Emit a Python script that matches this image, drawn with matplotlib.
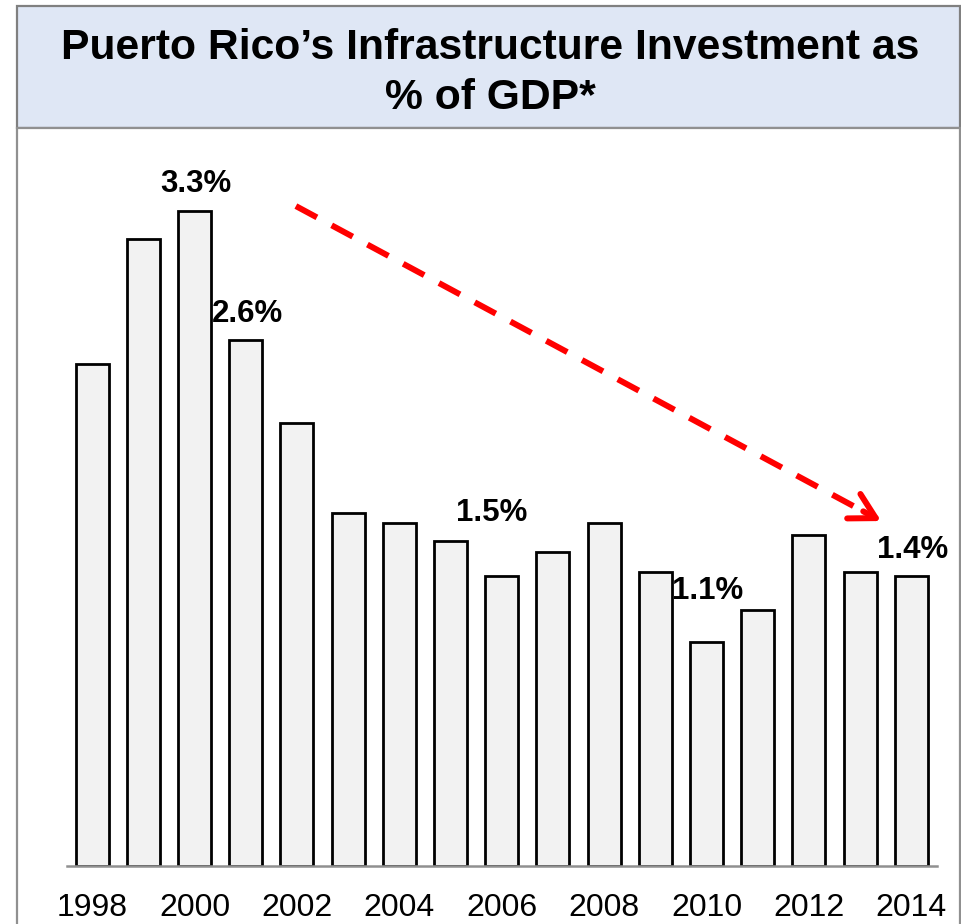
import matplotlib
matplotlib.use("Agg")
import matplotlib.pyplot as plt
from matplotlib.patches import Rectangle

years = list(range(1998, 2015))
values = [2.53, 3.16, 3.30, 2.65, 2.23, 1.78, 1.73, 1.64, 1.46, 1.58, 1.73, 1.48, 1.13, 1.29, 1.67, 1.48, 1.46]
tick_years = [1998, 2000, 2002, 2004, 2006, 2008, 2010, 2012, 2014]
label_texts = ["3.3%", "2.6%", "1.5%", "1.1%", "1.4%"]
label_x = [2.02, 3.03, 7.81, 12.03, 16.03]
label_y = [3.396, 2.741, 1.738, 1.345, 1.552]
arrow_start = (3.98, 3.325)
arrow_end = (15.41, 1.738)
title = "Puerto Rico\u2019s Infrastructure Investment as\n% of GDP*"

plt.rcParams['font.family'] = ['Liberation Sans', 'DejaVu Sans']

W, H = 961, 924
fig = plt.figure(figsize=(W / 100, H / 100), dpi=100)

# title box and panel
fig.patches.append(Rectangle((17 / W, 1 - 128 / H), (960 - 17) / W, (128 - 6) / H,
                             transform=fig.transFigure, facecolor="#DFE7F5",
                             edgecolor="#808080", linewidth=1.6, zorder=-2))
fig.patches.append(Rectangle((17 / W, -0.01), (960 - 17) / W, 1 - 128 / H + 0.01,
                             transform=fig.transFigure, facecolor="white",
                             edgecolor="#909090", linewidth=1.6, zorder=-2))
fig.text(490 / W, 1 - 73 / H, title, ha="center", va="center", fontsize=30.7,
         fontweight="bold", linespacing=1.34)

ax = fig.add_axes([67 / W, 1 - 866 / H, (937 - 67) / W, (866 - 151.5) / H])
ax.set_zorder(2)
ax.set_facecolor("none")
x = list(range(len(years)))
ax.bar(x, values, width=0.645, color="#F2F2F2", edgecolor="black", linewidth=2.0, zorder=2)
ax.set_xlim(-0.49, 16.5)
ax.set_ylim(0, 3.6)
for s in ["top", "right", "left"]:
    ax.spines[s].set_visible(False)
ax.spines["bottom"].set_color("#909090")
ax.spines["bottom"].set_linewidth(1.8)
ax.set_yticks([])
ax.set_xticks([years.index(y) for y in tick_years])
ax.set_xticklabels([str(y) for y in tick_years], fontsize=23)
ax.tick_params(axis="x", length=0, pad=19.5)

for t, lx, ly in zip(label_texts, label_x, label_y):
    ax.text(lx, ly, t, ha="center", va="baseline", fontsize=22.5, fontweight="bold",
            clip_on=False, zorder=4)

# dashed trend arrow
ax.plot([arrow_start[0], arrow_end[0] - 0.25], [arrow_start[1], arrow_end[1] + 0.035],
        color="#FF0000", linewidth=4.3, linestyle=(0, (4, 2.8)), solid_capstyle="butt",
        dash_capstyle="butt", zorder=3, clip_on=False)
ax.annotate("", xy=arrow_end, xytext=(arrow_end[0] - 0.35, arrow_end[1] + 0.049),
            arrowprops=dict(arrowstyle="->,head_length=0.9,head_width=0.5", color="#FF0000",
                            lw=4.3, mutation_scale=20, shrinkA=0, shrinkB=0),
            zorder=3, annotation_clip=False)

fig.savefig("out.png", dpi=100)
